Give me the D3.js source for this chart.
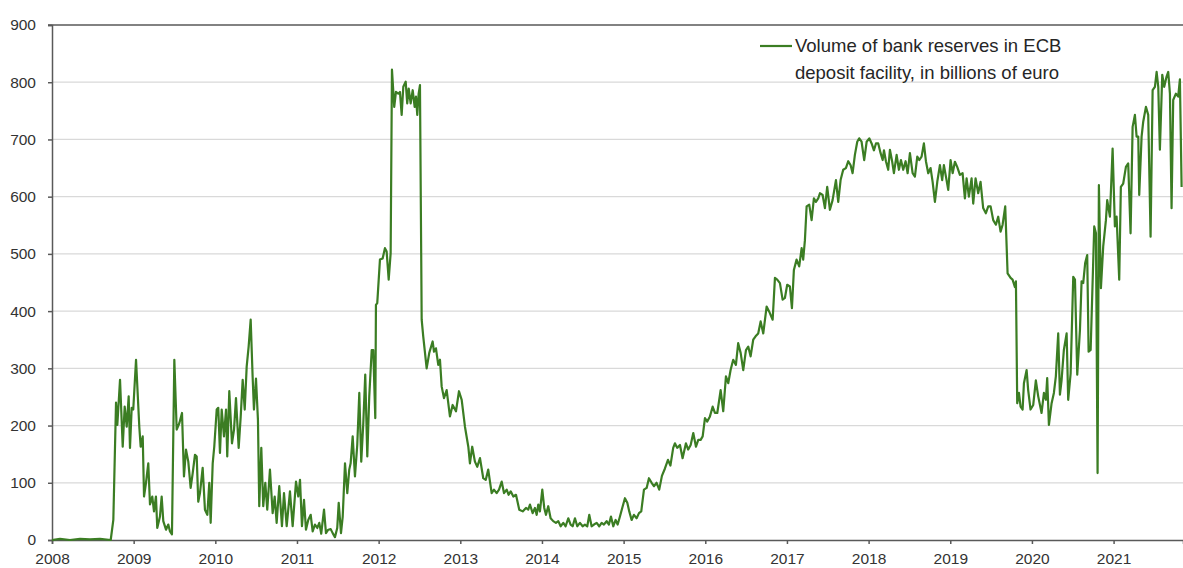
<!DOCTYPE html>
<html>
<head>
<meta charset="utf-8">
<script src="https://d3js.org/d3.v7.min.js"></script>
<style>
  body { margin: 0; background: #fff; }
  svg { display: block; font-family: "Liberation Sans", Arial, sans-serif; }
  .tick text { fill: #333; font-size: 15.5px; }
  .grid line { stroke: #d9d9d9; stroke-width: 1.3; }
  .legend text { fill: #262626; font-size: 18.5px; }
</style>
</head>
<body>
<svg id="chart" width="1183" height="568"></svg>
<script>
// week dates as decimal years
const dates = [
  2008.000, 2008.098, 2008.220, 2008.343, 2008.465, 2008.588, 2008.719, 2008.751, 2008.784, 2008.800,
  2008.833, 2008.866, 2008.890, 2008.915, 2008.939, 2008.955, 2008.976, 2008.995, 2009.029, 2009.069,
  2009.086, 2009.111, 2009.127, 2009.151, 2009.179, 2009.200, 2009.228, 2009.249, 2009.273, 2009.289,
  2009.322, 2009.343, 2009.363, 2009.396, 2009.424, 2009.445, 2009.469, 2009.498, 2009.527, 2009.559,
  2009.592, 2009.616, 2009.641, 2009.669, 2009.698, 2009.723, 2009.751, 2009.772, 2009.791, 2009.812,
  2009.845, 2009.873, 2009.902, 2009.926, 2009.943, 2009.968, 2009.987, 2010.017, 2010.036, 2010.057,
  2010.078, 2010.106, 2010.131, 2010.146, 2010.171, 2010.204, 2010.229, 2010.253, 2010.286, 2010.311,
  2010.335, 2010.360, 2010.384, 2010.408, 2010.433, 2010.457, 2010.473, 2010.498, 2010.522, 2010.538,
  2010.563, 2010.587, 2010.612, 2010.636, 2010.669, 2010.702, 2010.727, 2010.751, 2010.783, 2010.816,
  2010.841, 2010.874, 2010.914, 2010.947, 2010.988, 2011.016, 2011.037, 2011.061, 2011.086, 2011.110,
  2011.138, 2011.168, 2011.192, 2011.220, 2011.249, 2011.273, 2011.297, 2011.331, 2011.355, 2011.383,
  2011.413, 2011.437, 2011.465, 2011.493, 2011.511, 2011.539, 2011.560, 2011.588, 2011.616, 2011.640,
  2011.657, 2011.682, 2011.710, 2011.738, 2011.763, 2011.787, 2011.812, 2011.836, 2011.861, 2011.885,
  2011.915, 2011.934, 2011.959, 2011.967, 2011.983, 2012.016, 2012.049, 2012.077, 2012.098, 2012.123,
  2012.147, 2012.163, 2012.191, 2012.212, 2012.240, 2012.261, 2012.282, 2012.302, 2012.331, 2012.350,
  2012.368, 2012.392, 2012.417, 2012.441, 2012.457, 2012.473, 2012.490, 2012.506, 2012.527, 2012.546,
  2012.588, 2012.620, 2012.661, 2012.678, 2012.702, 2012.730, 2012.751, 2012.772, 2012.800, 2012.833,
  2012.873, 2012.906, 2012.947, 2012.984, 2013.017, 2013.057, 2013.098, 2013.118, 2013.146, 2013.179,
  2013.208, 2013.241, 2013.281, 2013.311, 2013.342, 2013.384, 2013.412, 2013.445, 2013.474, 2013.507,
  2013.535, 2013.568, 2013.592, 2013.617, 2013.649, 2013.682, 2013.722, 2013.764, 2013.804, 2013.832,
  2013.853, 2013.886, 2013.914, 2013.935, 2013.955, 2013.975, 2014.004, 2014.028, 2014.049, 2014.077,
  2014.106, 2014.138, 2014.171, 2014.200, 2014.229, 2014.261, 2014.290, 2014.322, 2014.351, 2014.376,
  2014.404, 2014.432, 2014.465, 2014.498, 2014.526, 2014.555, 2014.579, 2014.608, 2014.637, 2014.670,
  2014.701, 2014.731, 2014.759, 2014.792, 2014.820, 2014.845, 2014.873, 2014.902, 2014.927, 2014.955,
  2014.983, 2015.016, 2015.045, 2015.069, 2015.098, 2015.126, 2015.159, 2015.188, 2015.216, 2015.249,
  2015.282, 2015.310, 2015.343, 2015.371, 2015.404, 2015.436, 2015.469, 2015.506, 2015.543, 2015.573,
  2015.607, 2015.628, 2015.656, 2015.690, 2015.722, 2015.763, 2015.791, 2015.821, 2015.853, 2015.886,
  2015.914, 2015.943, 2015.968, 2015.996, 2016.024, 2016.057, 2016.090, 2016.118, 2016.147, 2016.188,
  2016.220, 2016.253, 2016.281, 2016.310, 2016.342, 2016.375, 2016.403, 2016.433, 2016.465, 2016.498,
  2016.526, 2016.555, 2016.587, 2016.616, 2016.648, 2016.678, 2016.710, 2016.751, 2016.783, 2016.825,
  2016.853, 2016.881, 2016.914, 2016.947, 2016.975, 2017.003, 2017.036, 2017.061, 2017.085, 2017.118,
  2017.150, 2017.180, 2017.199, 2017.220, 2017.241, 2017.273, 2017.302, 2017.330, 2017.355, 2017.383,
  2017.404, 2017.437, 2017.465, 2017.493, 2017.526, 2017.559, 2017.600, 2017.628, 2017.657, 2017.689,
  2017.722, 2017.751, 2017.780, 2017.804, 2017.832, 2017.861, 2017.885, 2017.914, 2017.946, 2017.976,
  2018.008, 2018.037, 2018.065, 2018.090, 2018.118, 2018.147, 2018.172, 2018.188, 2018.212, 2018.240,
  2018.261, 2018.289, 2018.310, 2018.343, 2018.371, 2018.396, 2018.424, 2018.453, 2018.478, 2018.506,
  2018.539, 2018.567, 2018.596, 2018.620, 2018.649, 2018.677, 2018.702, 2018.730, 2018.759, 2018.784,
  2018.812, 2018.841, 2018.873, 2018.901, 2018.922, 2018.947, 2018.975, 2019.004, 2019.029, 2019.057,
  2019.085, 2019.118, 2019.151, 2019.179, 2019.200, 2019.228, 2019.261, 2019.281, 2019.310, 2019.342,
  2019.371, 2019.403, 2019.436, 2019.465, 2019.494, 2019.526, 2019.559, 2019.587, 2019.616, 2019.641,
  2019.673, 2019.702, 2019.739, 2019.763, 2019.792, 2019.804, 2019.820, 2019.841, 2019.861, 2019.886,
  2019.902, 2019.935, 2019.954, 2019.983, 2020.016, 2020.048, 2020.077, 2020.118, 2020.147, 2020.171,
  2020.187, 2020.208, 2020.241, 2020.269, 2020.293, 2020.322, 2020.343, 2020.363, 2020.391, 2020.425,
  2020.444, 2020.474, 2020.506, 2020.527, 2020.555, 2020.588, 2020.608, 2020.628, 2020.652, 2020.677,
  2020.694, 2020.719, 2020.763, 2020.784, 2020.804, 2020.820, 2020.845, 2020.873, 2020.906, 2020.922,
  2020.955, 2020.988, 2021.016, 2021.037, 2021.069, 2021.089, 2021.118, 2021.151, 2021.179, 2021.208,
  2021.233, 2021.261, 2021.282, 2021.302, 2021.314, 2021.343, 2021.363, 2021.396, 2021.424, 2021.453,
  2021.478, 2021.506, 2021.527, 2021.547, 2021.567, 2021.596, 2021.620, 2021.649, 2021.669, 2021.690,
  2021.710, 2021.730, 2021.763, 2021.791, 2021.812, 2021.833
];

// deposit facility volume, billions of euro
const reserves = [
  0, 2, 0, 2, 1, 2, 0, 35, 240, 201,
  280, 163, 233, 198, 251, 161, 231, 228, 315, 198,
  163, 181, 76, 100, 134, 62, 76, 50, 76, 21,
  41, 76, 33, 18, 27, 15, 10, 315, 193, 204,
  222, 111, 158, 137, 91, 117, 149, 146, 67, 82,
  126, 53, 44, 100, 30, 134, 163, 228, 231, 152,
  228, 181, 228, 146, 260, 169, 193, 248, 161, 216,
  280, 228, 303, 338, 385, 285, 228, 282, 210, 59,
  161, 59, 100, 53, 123, 47, 76, 30, 94, 24,
  82, 24, 85, 24, 102, 76, 105, 24, 70, 18,
  35, 44, 15, 27, 21, 30, 11, 53, 12, 18,
  19, 12, 5, 21, 65, 12, 41, 134, 82, 123,
  134, 181, 111, 166, 257, 137, 204, 289, 146, 251,
  332, 332, 213, 411, 414, 490, 492, 510, 504, 455,
  501, 822, 757, 783, 780, 783, 743, 792, 801, 763,
  789, 763, 786, 757, 775, 743, 780, 795, 385, 356,
  300, 327, 347, 329, 335, 306, 315, 268, 248, 262,
  216, 236, 225, 260, 245, 198, 163, 134, 163, 137,
  128, 143, 108, 105, 123, 82, 88, 82, 88, 102,
  82, 88, 79, 85, 76, 79, 53, 50, 56, 53,
  62, 47, 56, 44, 62, 50, 88, 56, 44, 59,
  38, 33, 30, 33, 24, 30, 24, 38, 27, 24,
  38, 24, 30, 24, 27, 24, 44, 24, 27, 30,
  24, 30, 27, 33, 27, 41, 24, 35, 27, 41,
  56, 73, 65, 50, 35, 44, 38, 47, 50, 88,
  91, 108, 100, 94, 100, 88, 112, 125, 140, 130,
  161, 169, 161, 166, 143, 169, 158, 166, 187, 163,
  175, 175, 181, 213, 207, 216, 233, 222, 222, 262,
  225, 286, 274, 297, 315, 306, 344, 327, 297, 332,
  338, 321, 350, 356, 361, 382, 361, 408, 399, 385,
  458, 455, 449, 420, 423, 446, 443, 405, 472, 490,
  478, 510, 490, 524, 583, 586, 559, 597, 591, 597,
  606, 603, 580, 617, 577, 594, 629, 591, 629, 647,
  650, 662, 655, 641, 673, 696, 702, 696, 664, 696,
  702, 693, 681, 693, 693, 676, 664, 681, 662, 647,
  682, 661, 641, 673, 647, 664, 647, 662, 641, 676,
  641, 635, 670, 664, 670, 693, 662, 641, 650, 626,
  591, 626, 655, 629, 655, 635, 612, 664, 641, 661,
  652, 638, 641, 597, 632, 600, 632, 588, 632, 606,
  626, 580, 571, 583, 583, 559, 551, 565, 539, 551,
  583, 466, 458, 455, 442, 452, 239, 257, 233, 228,
  274, 297, 262, 228, 236, 279, 251, 222, 257, 245,
  283, 201, 239, 257, 286, 361, 254, 279, 332, 361,
  245, 291, 460, 455, 289, 367, 452, 449, 484, 498,
  329, 332, 548, 536, 117, 620, 440, 513, 559, 594,
  565, 684, 548, 565, 455, 617, 623, 652, 658, 536,
  722, 743, 705, 705, 603, 705, 731, 757, 743, 530,
  786, 792, 818, 792, 682, 813, 792, 810, 818, 780,
  580, 769, 780, 775, 805, 617
];

const yearTicks = [2008, 2009, 2010, 2011, 2012, 2013, 2014, 2015, 2016, 2017, 2018, 2019, 2020, 2021];
const valueTicks = [0, 100, 200, 300, 400, 500, 600, 700, 800, 900];
const legendLines = ["Volume of bank reserves in ECB", "deposit facility, in billions of euro"];

const width = 1183, height = 568;
const margin = { top: 25, right: 0, bottom: 28, left: 52 };

const svg = d3.select('#chart');

const x = d3.scaleLinear()
    .domain([2008, 2021.85])
    .range([margin.left, width - margin.right]);

const y = d3.scaleLinear()
    .domain([0, 900])
    .range([height - margin.bottom, margin.top]);

// horizontal grid
svg.append('g')
    .attr('class', 'grid')
    .selectAll('line')
    .data(valueTicks.filter(d => d > 0 && d < 900))
    .join('line')
    .attr('x1', margin.left)
    .attr('x2', width)
    .attr('y1', d => y(d))
    .attr('y2', d => y(d));

// top border
svg.append('line')
    .attr('x1', margin.left - 4)
    .attr('x2', width)
    .attr('y1', y(900))
    .attr('y2', y(900))
    .attr('stroke', '#595959')
    .attr('stroke-width', 1.5);

const yAxis = svg.append('g')
    .attr('transform', `translate(${margin.left},0)`)
    .call(d3.axisLeft(y).tickValues(valueTicks).tickSize(4).tickPadding(12));
yAxis.select('.domain').attr('stroke', '#595959').attr('stroke-width', 1.5);
yAxis.selectAll('.tick line').attr('stroke', '#595959').attr('stroke-width', 1.5);

const xAxis = svg.append('g')
    .attr('transform', `translate(0,${y(0)})`)
    .call(d3.axisBottom(x).tickValues(yearTicks).tickFormat(d3.format('d')).tickSize(4).tickPadding(9));
xAxis.select('.domain').attr('stroke', '#595959').attr('stroke-width', 1.5);
xAxis.selectAll('.tick line').attr('stroke', '#595959').attr('stroke-width', 1.5);

// series line
const series = dates.map((d, i) => ({ t: d, v: reserves[i] }));
svg.append('path')
    .datum(series)
    .attr('fill', 'none')
    .attr('stroke', '#3b7d23')
    .attr('stroke-width', 2.2)
    .attr('stroke-linejoin', 'round')
    .attr('d', d3.line().x(d => x(d.t)).y(d => y(d.v)));

// legend
const legend = svg.append('g').attr('class', 'legend');
legend.append('line')
    .attr('x1', 760).attr('x2', 792)
    .attr('y1', 46).attr('y2', 46)
    .attr('stroke', '#3b7d23')
    .attr('stroke-width', 2.2);
legend.selectAll('text')
    .data(legendLines)
    .join('text')
    .attr('x', 795)
    .attr('y', (d, i) => 52 + i * 27)
    .text(d => d);
</script>
</body>
</html>
